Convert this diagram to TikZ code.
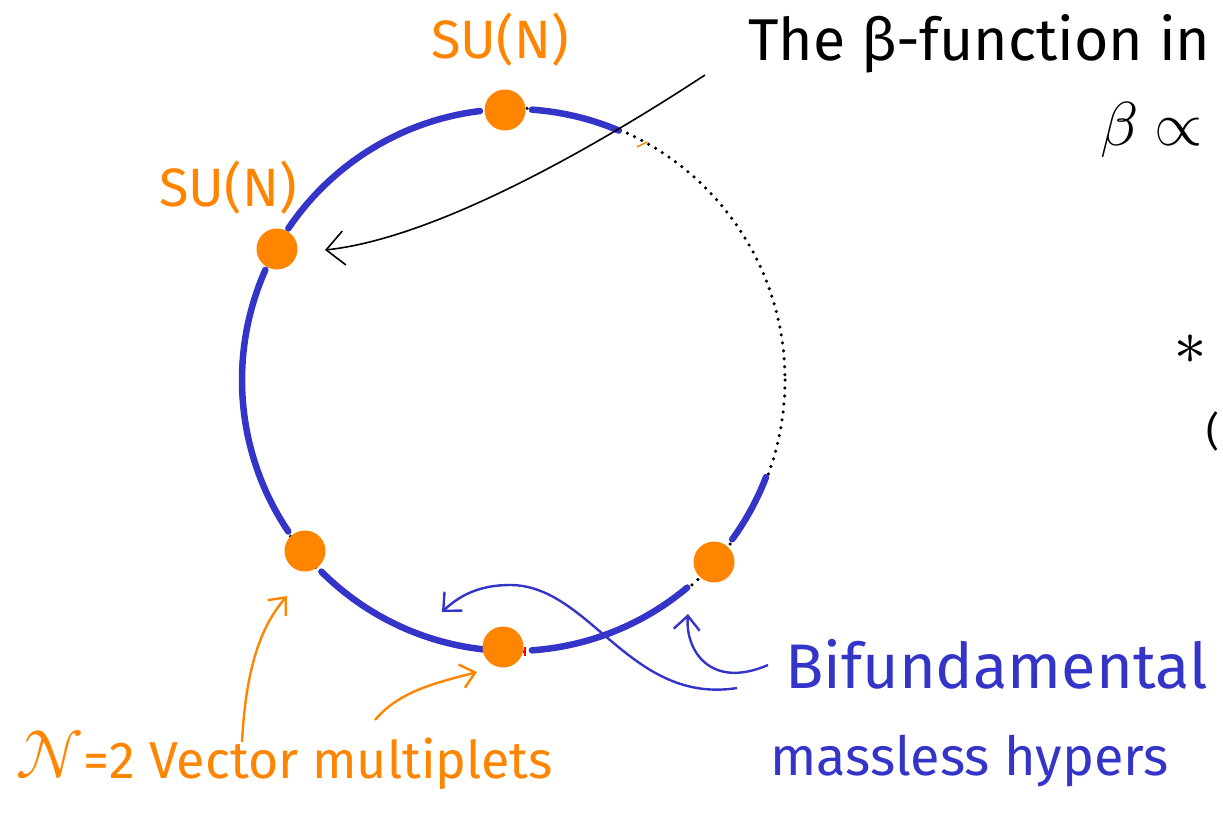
\documentclass[tikz,border=0pt]{standalone}
\usepackage{fontspec}
\usepackage{unicode-math}
\setmainfont{Fira Sans}
\usetikzlibrary{arrows.meta}
\definecolor{dotorange}{RGB}{255,132,0}
\definecolor{penblue}{RGB}{52,52,200}
\tikzset{
  x=1pt,y=-1pt,
  gauge/.style={circle,fill=dotorange,inner sep=0pt,minimum size=41pt},
  bif/.style={draw=penblue,line width=6.5pt,line cap=round},
  ring/.style={draw=black,line width=3.5pt,line cap=round,dash pattern=on 0pt off 8pt},
  bluearrow/.style={draw=penblue,line width=2.4pt,-{Straight Barb[length=14pt,width=26pt,line width=2.4pt]}},
  orangearrow/.style={draw=dotorange,line width=2.4pt,-{Straight Barb[length=14pt,width=24pt,line width=2.4pt]}},
  blackarrow/.style={draw=black,line width=1.6pt,-{Straight Barb[length=18pt,width=34pt,line width=1.6pt]}},
  hand/.style={inner sep=0pt,anchor=base west},
}
\begin{document}
\begin{tikzpicture}
\useasboundingbox (0,0) rectangle (1223,816);
\coordinate (c) at (513,380);
% dotted quiver circle
\draw[ring] (c) circle[radius=272];
% bifundamental hypers (blue arcs)
\draw[bif] (c) ++(-97:271) arc[start angle=-97,end angle=-146,radius=271];
\draw[bif] (c) ++(-86:271) arc[start angle=-86,end angle=-67,radius=271];
\draw[bif] (c) ++(204:271) arc[start angle=204,end angle=146,radius=271];
\draw[bif] (c) ++(135:271) arc[start angle=135,end angle=96,radius=271];
\draw[bif] (c) ++(86:271) arc[start angle=86,end angle=50,radius=271];
\draw[bif] (c) ++(36:271) arc[start angle=36,end angle=21,radius=271];
% small stray marks
\coordinate (t1) at (637,147); \coordinate (t2) at (647,142);
\draw[dotorange,line width=1.5pt] (t1) -- (t2);
% gauge nodes
\node[gauge] (n1) at (505,110) {};
\node[gauge] (n2) at (277,249) {};
\node[gauge] (n3) at (305,551) {};
\node[gauge] (n4) at (503,647) {};
\node[gauge] (n5) at (714,562) {};
\coordinate (r1) at (525,647); \coordinate (r2) at (525,656);
\draw[red,line width=1.5pt] (r1) -- (r2);
% labels
\node[text=dotorange,font=\fontsize{54}{60}\selectfont] (l1) at (500,40) {SU(N)};
\node[text=dotorange,font=\fontsize{54}{60}\selectfont] (l2) at (228,188) {SU(N)};
\node[hand,font=\fontsize{59}{66}\selectfont] (beta) at (748,60) {The β-function in};
\node[hand,font=\fontsize{62}{70}\selectfont] (prop) at (1100,145) {$\beta\propto$};
\node[font=\fontsize{64}{66}\selectfont] (star) at (1190,350) {$\ast$};
\node[hand,font=\fontsize{40}{46}\selectfont] (paren) at (1206,445) {(};
\node[hand,text=penblue,font=\fontsize{63}{70}\selectfont] (bifl) at (785,688) {Bifundamental};
\node[hand,text=penblue,font=\fontsize{54}{60}\selectfont] (hyp) at (770,775) {massless hypers};
\node[hand,text=dotorange,font=\fontsize{52}{60}\selectfont] (vec) at (15,778) {{\fontsize{68}{70}\selectfont$\mathcal{N}$}=2 Vector multiplets};
% arrows
\coordinate (ba) at (705,75);
\coordinate (bt) at (325,250);
\draw[blackarrow] (ba) .. controls (560,170) and (420,240) .. (bt);
\coordinate (h1) at (737,688);
\coordinate (h1t) at (442,612);
\draw[bluearrow] (h1) .. controls (630,705) and (590,585) .. (510,585) .. controls (480,585) and (460,595) .. (h1t);
\coordinate (h2) at (768,665);
\coordinate (h2t) at (688,614);
\draw[bluearrow] (h2) .. controls (710,690) and (685,650) .. (h2t);
\coordinate (o1) at (242,742);
\coordinate (o1t) at (287,596);
\draw[orangearrow] (o1) .. controls (246,665) and (262,625) .. (o1t);
\coordinate (o2) at (375,720);
\coordinate (o2t) at (477,672);
\draw[orangearrow] (o2) .. controls (400,690) and (440,682) .. (o2t);
\end{tikzpicture}
\end{document}
